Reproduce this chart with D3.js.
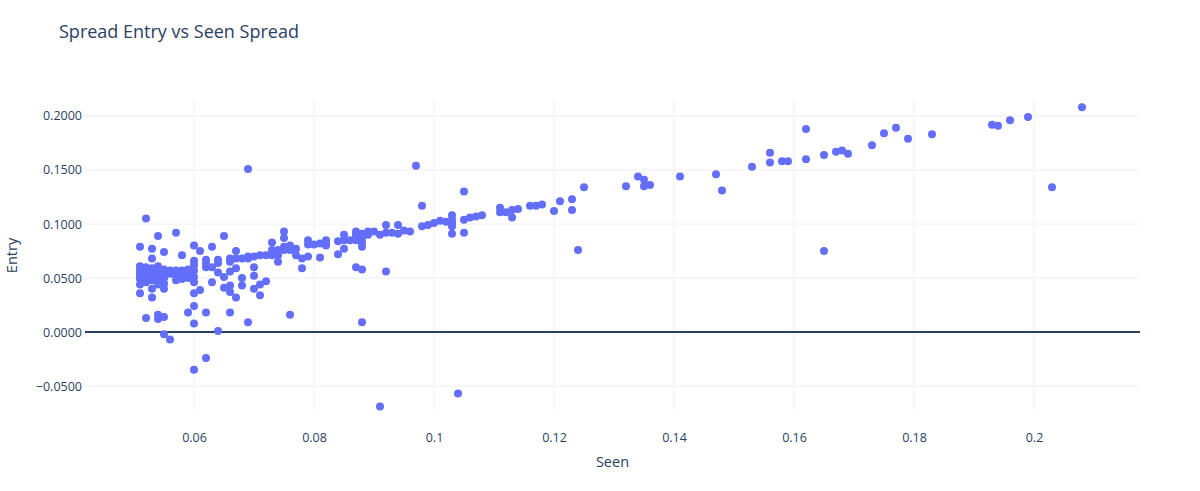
<!DOCTYPE html>
<html><head><meta charset="utf-8">
<script src="https://cdn.jsdelivr.net/npm/d3@7"></script>
<style>body{margin:0;background:#fff}</style></head>
<body><svg id="c" width="1200" height="491"></svg>
<script>
// Seen (x) and Entry (y) values
const seen = [
 0.051,0.051,0.051,0.051,0.051,0.051,0.051,0.051,
 0.052,0.052,0.052,0.052,0.052,0.052,0.052,
 0.053,0.053,0.053,0.053,0.053,0.053,0.053,0.053,
 0.054,0.054,0.054,0.054,0.054,0.054,0.054,0.054,
 0.055,0.055,0.055,0.055,0.055,0.055,0.055,0.055,
 0.056,0.056,0.056,
 0.057,0.057,0.057,0.057,
 0.058,0.058,0.058,0.058,
 0.059,0.059,0.059,0.059,
 0.060,0.060,0.060,0.060,0.060,0.060,0.060,0.060,0.060,0.060,
 0.061,0.061,
 0.062,0.062,0.062,0.062,0.062,
 0.063,0.063,0.063,
 0.064,0.064,0.064,0.064,
 0.065,0.065,0.065,
 0.066,0.066,0.066,0.066,0.066,0.066,
 0.067,0.067,0.067,0.067,
 0.068,0.068,0.068,
 0.069,0.069,0.069,0.069,
 0.070,0.070,0.070,0.070,
 0.071,0.071,0.071,
 0.072,0.072,
 0.073,0.073,0.073,
 0.074,0.074,0.074,
 0.075,0.075,0.075,0.075,
 0.076,0.076,0.076,
 0.077,0.077,
 0.078,0.078,
 0.079,0.079,0.079,
 0.080,
 0.081,0.081,
 0.082,0.082,0.082,
 0.084,0.084,
 0.085,0.085,0.085,
 0.086,
 0.087,0.087,0.087,0.087,0.087,
 0.088,0.088,0.088,0.088,0.088,0.088,
 0.089,0.089,
 0.090,
 0.091,0.091,
 0.092,0.092,0.092,
 0.093,
 0.094,0.094,
 0.095,
 0.096,
 0.097,
 0.098,0.098,
 0.099,
 0.100,
 0.101,
 0.102,
 0.103,0.103,0.103,0.103,0.103,
 0.104,
 0.105,0.105,0.105,
 0.106,
 0.107,
 0.108,
 0.111,0.111,
 0.112,
 0.113,0.113,
 0.114,
 0.116,
 0.117,
 0.118,
 0.120,
 0.121,
 0.123,0.123,
 0.124,
 0.125,
 0.132,
 0.134,
 0.135,0.135,
 0.136,
 0.141,
 0.147,
 0.148,
 0.153,
 0.156,0.156,
 0.158,
 0.159,
 0.162,0.162,
 0.165,0.165,
 0.167,
 0.168,
 0.169,
 0.173,
 0.175,
 0.177,
 0.179,
 0.183,
 0.193,
 0.194,
 0.196,
 0.199,
 0.203,
 0.208
];
const entry = [
 0.079,0.061,0.058,0.055,0.052,0.049,0.044,0.036,
 0.105,0.060,0.057,0.054,0.051,0.046,0.013,
 0.077,0.068,0.059,0.056,0.053,0.048,0.040,0.032,
 0.089,0.061,0.058,0.055,0.050,0.044,0.016,0.012,
 0.074,0.058,0.055,0.050,0.045,0.040,0.014,-0.002,
 0.057,0.054,-0.007,
 0.092,0.057,0.052,0.048,
 0.071,0.057,0.053,0.049,
 0.058,0.055,0.050,0.018,
 0.080,0.066,0.062,0.057,0.051,0.046,0.036,0.024,0.008,-0.035,
 0.075,0.039,
 0.067,0.064,0.060,0.018,-0.024,
 0.079,0.060,0.046,
 0.067,0.064,0.055,0.001,
 0.089,0.051,0.041,
 0.068,0.065,0.056,0.043,0.037,0.018,
 0.075,0.068,0.059,0.032,
 0.068,0.050,0.043,
 0.151,0.070,0.068,0.009,
 0.070,0.060,0.052,0.040,
 0.071,0.044,0.034,
 0.071,0.047,
 0.083,0.076,0.071,
 0.076,0.071,0.065,
 0.093,0.087,0.079,0.076,
 0.080,0.076,0.016,
 0.077,0.071,
 0.068,0.059,
 0.085,0.081,0.070,
 0.081,
 0.082,0.069,
 0.085,0.082,0.080,
 0.084,0.072,
 0.090,0.085,0.077,
 0.085,
 0.093,0.090,0.087,0.085,0.060,
 0.091,0.087,0.083,0.079,0.058,0.009,
 0.093,0.090,
 0.093,
 0.090,-0.069,
 0.099,0.092,0.056,
 0.092,
 0.099,0.091,
 0.094,
 0.093,
 0.154,
 0.117,0.098,
 0.099,
 0.101,
 0.103,
 0.102,
 0.108,0.104,0.101,0.098,0.091,
 -0.057,
 0.130,0.104,0.092,
 0.106,
 0.107,
 0.108,
 0.115,0.111,
 0.111,
 0.113,0.106,
 0.114,
 0.117,
 0.117,
 0.118,
 0.112,
 0.121,
 0.123,0.113,
 0.076,
 0.134,
 0.135,
 0.144,
 0.141,0.135,
 0.136,
 0.144,
 0.146,
 0.131,
 0.153,
 0.166,0.157,
 0.158,
 0.158,
 0.188,0.160,
 0.164,0.075,
 0.167,
 0.168,
 0.165,
 0.173,
 0.184,
 0.189,
 0.179,
 0.183,
 0.192,
 0.191,
 0.196,
 0.199,
 0.134,
 0.208
];
const xTicks = [0.06,0.08,0.1,0.12,0.14,0.16,0.18,0.2];
const xTickLabels = ["0.06","0.08","0.1","0.12","0.14","0.16","0.18","0.2"];
const yTicks = [-0.05,0,0.05,0.1,0.15,0.2];
const yTickLabels = ["\u22120.0500","0.0000","0.0500","0.1000","0.1500","0.2000"];
const xDomain = [0.04183, 0.21767];
const yDomain = [-0.0731, 0.2148];

const W = 1200, H = 491;
const m = {left: 85, right: 60, top: 100, bottom: 80};
const font = '"Open Sans", verdana, arial, sans-serif';
const ink = '#2a3f5f';
const svg = d3.select('#c');
svg.append('rect').attr('width', W).attr('height', H).attr('fill', '#fff');

const x = d3.scaleLinear().domain(xDomain).range([m.left, W - m.right]);
const y = d3.scaleLinear().domain(yDomain).range([H - m.bottom, m.top]);

const g = svg.append('g');
// grid
g.selectAll('line.vx').data(xTicks).join('line')
  .attr('x1', d => x(d)).attr('x2', d => x(d))
  .attr('y1', m.top).attr('y2', H - m.bottom)
  .attr('stroke', '#ebf0f8').attr('stroke-width', 1);
g.selectAll('line.hy').data(yTicks.filter(t => t !== 0)).join('line')
  .attr('class', 'hy')
  .attr('x1', m.left).attr('x2', W - m.right)
  .attr('y1', d => y(d)).attr('y2', d => y(d))
  .attr('stroke', '#ebf0f8').attr('stroke-width', 1);
// zero line
g.append('line').attr('x1', m.left).attr('x2', W - m.right)
  .attr('y1', y(0)).attr('y2', y(0))
  .attr('stroke', ink).attr('stroke-width', 2);

// axes tick labels via d3 axes
const xAxis = d3.axisBottom(x).tickValues(xTicks)
  .tickFormat((d, i) => xTickLabels[i]).tickSize(0).tickPadding(0);
const xa = svg.append('g').attr('transform', `translate(0,${H - m.bottom + 22})`).call(xAxis);
xa.select('.domain').remove();
xa.selectAll('text').attr('font-family', font).attr('font-size', 12.5).attr('fill', ink).attr('dy', '0.71em');

const yAxis = d3.axisLeft(y).tickValues(yTicks)
  .tickFormat((d, i) => yTickLabels[i]).tickSize(0).tickPadding(3);
const ya = svg.append('g').attr('transform', `translate(${m.left},0)`).call(yAxis);
ya.select('.domain').remove();
ya.selectAll('text').attr('font-family', font).attr('font-size', 12.5).attr('fill', ink);

// points
const pts = seen.map((s, i) => ({s, e: entry[i]}));
svg.append('g').selectAll('circle').data(pts).join('circle')
  .attr('cx', d => x(d.s)).attr('cy', d => y(d.e)).attr('r', 4)
  .attr('fill', '#636efa');

// titles
svg.append('text').attr('x', 59).attr('y', 38).text('Spread Entry vs Seen Spread')
  .attr('font-family', font).attr('font-size', 18).attr('fill', ink);
svg.append('text').attr('x', (m.left + W - m.right) / 2).attr('y', 467).attr('text-anchor', 'middle')
  .text('Seen').attr('font-family', font).attr('font-size', 14.5).attr('fill', ink);
svg.append('text').attr('transform', `translate(17,${(m.top + H - m.bottom) / 2}) rotate(-90)`)
  .attr('text-anchor', 'middle').text('Entry')
  .attr('font-family', font).attr('font-size', 14.5).attr('fill', ink);
</script>
</body></html>
